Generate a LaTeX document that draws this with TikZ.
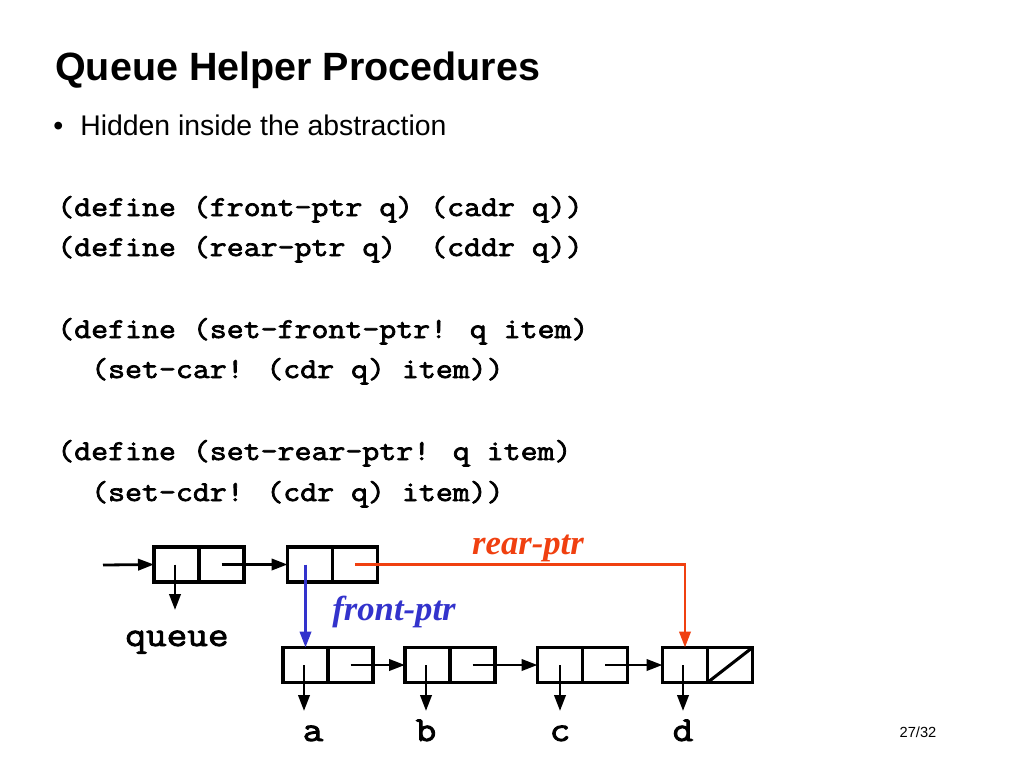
\documentclass[tikz,border=0pt]{standalone}
\usepackage{fontspec}
\setmainfont{Liberation Sans}
\newfontfamily\courf{Latin Modern Mono}[FakeStretch=1.143,FakeBold=2.5]
\newfontfamily\timesf{Liberation Serif}
\usetikzlibrary{arrows.meta}
\definecolor{rearred}{RGB}{240,64,16}
\definecolor{frontblue}{RGB}{51,51,204}
\begin{document}
\begin{tikzpicture}[x=0.75pt,y=-0.75pt,
  cell/.style={draw=black,line width=2.3pt,minimum width=33.75pt,minimum height=26.25pt,inner sep=0pt,outer sep=0pt},
  ptr/.style={line width=2.1pt,-{Triangle[length=12pt,width=8.5pt]}},
  code/.style={anchor=base west,inner sep=0pt,font=\courf\fontsize{21.6}{25}\selectfont},
  lbl/.style={anchor=base,inner sep=0pt,font=\courf\fontsize{26.3}{30}\selectfont},
  ptrlbl/.style={inner sep=0pt,font=\timesf\bfseries\itshape\fontsize{26}{30}\selectfont}]
\useasboundingbox[fill=white] (0,0) rectangle (1024,768);
% title and text
\node[anchor=base west,inner sep=0pt,font=\bfseries\fontsize{29.6}{36}\selectfont] (title) at (55,80) {Queue Helper Procedures};
\node[anchor=base west,inner sep=0pt,font=\fontsize{21.3}{24}\selectfont] (bul) at (53,135) {\textbullet};
\node[anchor=base west,inner sep=0pt,font=\fontsize{21.3}{24}\selectfont] (bullet) at (80,135) {Hidden inside the abstraction};
\node[code] (c1) at (57,216) {(define (front-ptr q) (cadr q))};
\node[code] (c2) at (57,256) {(define (rear-ptr q)\ \ (cddr q))};
\node[code] (c3) at (57,338) {(define (set-front-ptr! q item)};
\node[code] (c4) at (57,378) {\ \ (set-car! (cdr q) item))};
\node[code] (c5) at (57,460) {(define (set-rear-ptr! q item)};
\node[code] (c6) at (57,501) {\ \ (set-cdr! (cdr q) item))};
% cells
\node[cell] (Qa) at (176.5,564.5) {};
\node[cell] (Qd) at (221.5,564.5) {};
\node[cell] (Fa) at (310,564.5) {};
\node[cell] (Fd) at (355,564.5) {};
\node[cell] (Aa) at (305.5,665) {};
\node[cell] (Ad) at (350.5,665) {};
\node[cell] (Ba) at (427.5,665) {};
\node[cell] (Bd) at (472.5,665) {};
\node[cell] (Ca) at (560,665) {};
\node[cell] (Cd) at (605,665) {};
\node[cell] (Da) at (685,665) {};
\node[cell] (Dd) at (730,665) {};
\draw[line width=2.3pt] (Dd.south west) -- (Dd.north east);
% labels
\node[lbl] (queue) at (177,646) {queue};
\node[lbl] (la) at (313,741) {a};
\node[lbl] (lb) at (426,741) {b};
\node[lbl] (lc) at (560,741) {c};
\node[lbl] (ld) at (683,741) {d};
\node[ptrlbl,text=frontblue] (fl) at (394,612) {front-ptr};
\node[ptrlbl,text=rearred] (rl) at (528,548) {rear-ptr};
\node[inner sep=0pt,font=\fontsize{11}{13}\selectfont] (pg) at (918,732) {27/32};
% free ends
\coordinate (in) at (103,565);
\coordinate (qe) at (175,610);
\coordinate (ae) at (304,711);
\coordinate (be) at (426,711);
\coordinate (ce) at (560,711);
\coordinate (de) at (683,711);
% arrows
\draw[ptr] (in) -- (Qa.west);
\draw[ptr] (Qa.center -| qe) -- (qe);
\draw[ptr] (Qd.center) -- (Fa.west);
\draw[ptr,draw=frontblue] (Aa.center |- Fa.center) -- (Aa.north);
\draw[ptr,draw=rearred] (Fd.center) -| (Da.north);
\draw[ptr] (Aa.center -| ae) -- (ae);
\draw[ptr] (Ad.center) -- (Ba.west);
\draw[ptr] (Ba.center -| be) -- (be);
\draw[ptr] (Bd.center) -- (Ca.west);
\draw[ptr] (Ca.center -| ce) -- (ce);
\draw[ptr] (Cd.center) -- (Da.west);
\draw[ptr] (Da.center -| de) -- (de);
\end{tikzpicture}
\end{document}
